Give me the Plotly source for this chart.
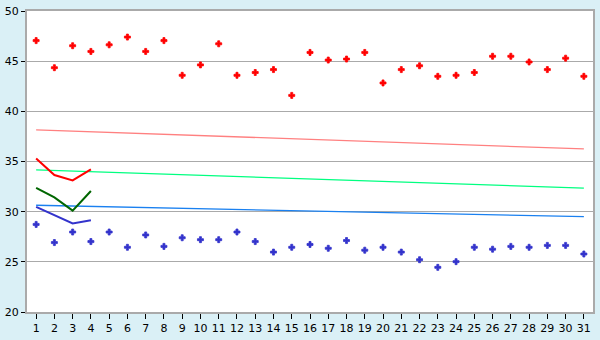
import plotly.graph_objects as go

days = list(range(1, 32))
high = [47.05, 44.35, 46.54, 45.97, 46.63, 47.4, 45.97, 47.05, 43.59, 44.63,
        46.73, 43.59, 43.87, 44.16, 41.59, 45.87, 45.11, 45.21, 45.87, 42.83,
        44.16, 44.54, 43.49, 43.59, 43.87, 45.49, 45.49, 44.92, 44.16, 45.30, 43.49]
low = [28.73, 26.92, 27.97, 27.02, 27.97, 26.45, 27.68, 26.54, 27.40, 27.21,
       27.21, 27.97, 27.02, 25.97, 26.45, 26.73, 26.35, 27.12, 26.16, 26.45,
       25.97, 25.21, 24.45, 25.02, 26.45, 26.26, 26.54, 26.45, 26.64, 26.64, 25.78]
trend_days = [1, 31]
trend_high = [38.16, 36.25]
trend_mid = [34.16, 32.35]
trend_low = [30.64, 29.50]
short_days = [1, 2, 3, 4]
short_red = [35.30, 33.65, 33.11, 34.22]
short_green = [32.38, 31.43, 30.10, 32.06]
short_blue = [30.48, 29.68, 28.83, 29.14]

fig = go.Figure()
fig.add_trace(go.Scatter(x=trend_days, y=trend_high, mode="lines", line=dict(color="#ff8080", width=1.3)))
fig.add_trace(go.Scatter(x=trend_days, y=trend_mid, mode="lines", line=dict(color="#00ff80", width=1.3)))
fig.add_trace(go.Scatter(x=trend_days, y=trend_low, mode="lines", line=dict(color="#1a80f0", width=1.3)))
fig.add_trace(go.Scatter(x=short_days, y=short_red, mode="lines", line=dict(color="#ff0000", width=2)))
fig.add_trace(go.Scatter(x=short_days, y=short_green, mode="lines", line=dict(color="#006600", width=2)))
fig.add_trace(go.Scatter(x=short_days, y=short_blue, mode="lines", line=dict(color="#3333cc", width=2)))
fig.add_trace(go.Scatter(x=days, y=high, mode="markers",
                         marker=dict(symbol="cross", size=5, color="#ff0000",
                                     line=dict(width=0.8, color="#ff0000"))))
fig.add_trace(go.Scatter(x=days, y=low, mode="markers",
                         marker=dict(symbol="cross", size=5, color="#3333cc",
                                     line=dict(width=0.8, color="#3333cc"))))

fig.update_layout(
    width=600, height=340,
    margin=dict(l=21, r=5, t=5, b=20),
    paper_bgcolor="#daf0f6",
    plot_bgcolor="#ffffff",
    showlegend=False,
    font=dict(family="DejaVu Sans", size=11, color="#000000"),
)
fig.update_xaxes(
    range=[0.5, 31.5], tickmode="array", tickvals=days, ticktext=[str(d) for d in days],
    showgrid=False, zeroline=False, showline=True, linecolor="#aaaaaa", linewidth=2, mirror=True,
    ticks="outside", ticklen=5, tickcolor="#000000", tickwidth=1,
)
fig.update_yaxes(
    range=[20, 50], dtick=5, showgrid=True, gridcolor="#aaaaaa", gridwidth=1, zeroline=False,
    showline=True, linecolor="#aaaaaa", linewidth=2, mirror=True,
    ticks="outside", ticklen=4, tickcolor="#000000", tickwidth=1,
)
fig.write_html("out.html")
